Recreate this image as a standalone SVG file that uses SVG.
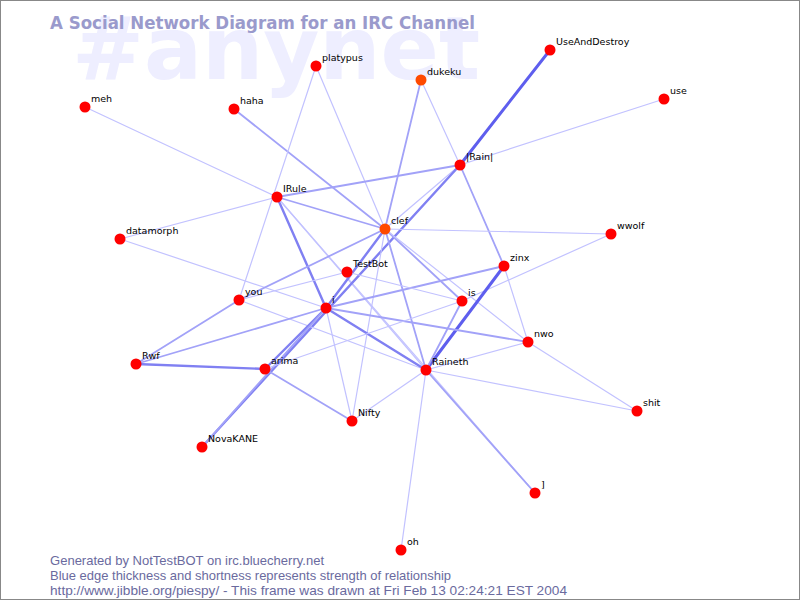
<svg xmlns="http://www.w3.org/2000/svg" width="800" height="600" viewBox="0 0 800 600">
<style>
.bg{fill:#ffffff;stroke:#888888;stroke-width:1}
.wm{font-family:"DejaVu Sans",sans-serif;font-weight:bold;font-size:88px;fill:#eeeeff}
.title{font-family:"DejaVu Sans",sans-serif;font-weight:bold;font-size:17px;fill:#9a9acc}
.foot{font-family:"Liberation Sans",Arial,sans-serif;font-size:13px;fill:#6a6a9e}
.lbl{font-family:"DejaVu Sans",sans-serif;font-size:9.5px;fill:#000000}
.n{fill:#ff0000}
.o{fill:#ff4a00}
#edges line{stroke-linecap:round}
.t{stroke:#c2c2ff;stroke-width:1.2}
.m{stroke:#a2a2f8;stroke-width:1.8}
.k{stroke:#8080f2;stroke-width:2.4}
.x{stroke:#5e5eee;stroke-width:3}
</style>
<rect class="bg" x="0.5" y="0.5" width="799" height="599"/>
<text class="wm" x="72" y="79" textLength="408" lengthAdjust="spacingAndGlyphs">#anynet</text>
<text class="title" x="50" y="29" textLength="425" lengthAdjust="spacingAndGlyphs">A Social Network Diagram for an IRC Channel</text>
<g id="edges">
<line class="t" x1="85" y1="107" x2="277" y2="197"/>
<line class="m" x1="234" y1="109" x2="385" y2="229"/>
<line class="t" x1="316" y1="66" x2="239" y2="300"/>
<line class="t" x1="316" y1="66" x2="385" y2="229"/>
<line class="m" x1="421" y1="80" x2="385" y2="229"/>
<line class="t" x1="421" y1="80" x2="460" y2="165"/>
<line class="x" x1="550" y1="50" x2="460" y2="165"/>
<line class="t" x1="664" y1="99" x2="460" y2="165"/>
<line class="m" x1="277" y1="197" x2="460" y2="165"/>
<line class="t" x1="277" y1="197" x2="120" y2="239"/>
<line class="m" x1="277" y1="197" x2="385" y2="229"/>
<line class="k" x1="277" y1="197" x2="326" y2="308"/>
<line class="t" x1="277" y1="197" x2="426" y2="370"/>
<line class="t" x1="277" y1="197" x2="535" y2="493"/>
<line class="t" x1="120" y1="239" x2="326" y2="308"/>
<line class="t" x1="460" y1="165" x2="385" y2="229"/>
<line class="m" x1="460" y1="165" x2="504" y2="266"/>
<line class="k" x1="460" y1="165" x2="202" y2="447"/>
<line class="k" x1="385" y1="229" x2="326" y2="308"/>
<line class="m" x1="385" y1="229" x2="239" y2="300"/>
<line class="t" x1="385" y1="229" x2="611" y2="234"/>
<line class="m" x1="385" y1="229" x2="462" y2="301"/>
<line class="t" x1="385" y1="229" x2="528" y2="342"/>
<line class="m" x1="385" y1="229" x2="426" y2="370"/>
<line class="t" x1="385" y1="229" x2="352" y2="421"/>
<line class="t" x1="611" y1="234" x2="462" y2="301"/>
<line class="x" x1="504" y1="266" x2="426" y2="370"/>
<line class="m" x1="504" y1="266" x2="326" y2="308"/>
<line class="t" x1="504" y1="266" x2="528" y2="342"/>
<line class="t" x1="347" y1="272" x2="239" y2="300"/>
<line class="t" x1="347" y1="272" x2="462" y2="301"/>
<line class="m" x1="239" y1="300" x2="136" y2="364"/>
<line class="t" x1="239" y1="300" x2="426" y2="370"/>
<line class="m" x1="326" y1="308" x2="136" y2="364"/>
<line class="k" x1="326" y1="308" x2="265" y2="369"/>
<line class="m" x1="326" y1="308" x2="202" y2="447"/>
<line class="t" x1="326" y1="308" x2="352" y2="421"/>
<line class="m" x1="326" y1="308" x2="528" y2="342"/>
<line class="k" x1="326" y1="308" x2="426" y2="370"/>
<line class="k" x1="136" y1="364" x2="265" y2="369"/>
<line class="m" x1="265" y1="369" x2="352" y2="421"/>
<line class="t" x1="265" y1="369" x2="462" y2="301"/>
<line class="m" x1="462" y1="301" x2="426" y2="370"/>
<line class="t" x1="528" y1="342" x2="426" y2="370"/>
<line class="t" x1="528" y1="342" x2="637" y2="411"/>
<line class="t" x1="426" y1="370" x2="637" y2="411"/>
<line class="t" x1="426" y1="370" x2="401" y2="550"/>
<line class="t" x1="426" y1="370" x2="352" y2="421"/>
<line class="m" x1="426" y1="370" x2="535" y2="493"/>
</g>
<g id="node-platypus"><circle class="n" cx="316" cy="66" r="5.5"/><text class="lbl" x="322" y="61">platypus</text></g>
<g id="node-dukeku"><circle class="o" cx="421" cy="80" r="5.5"/><text class="lbl" x="427" y="75">dukeku</text></g>
<g id="node-UseAndDestroy"><circle class="n" cx="550" cy="50" r="5.5"/><text class="lbl" x="556" y="45">UseAndDestroy</text></g>
<g id="node-use"><circle class="n" cx="664" cy="99" r="5.5"/><text class="lbl" x="670" y="94">use</text></g>
<g id="node-meh"><circle class="n" cx="85" cy="107" r="5.5"/><text class="lbl" x="91" y="102">meh</text></g>
<g id="node-haha"><circle class="n" cx="234" cy="109" r="5.5"/><text class="lbl" x="240" y="104">haha</text></g>
<g id="node-Rain"><circle class="n" cx="460" cy="165" r="5.5"/><text class="lbl" x="466" y="160">|Rain|</text></g>
<g id="node-IRule"><circle class="n" cx="277" cy="197" r="5.5"/><text class="lbl" x="283" y="192">IRule</text></g>
<g id="node-clef"><circle class="o" cx="385" cy="229" r="5.5"/><text class="lbl" x="391" y="224">clef</text></g>
<g id="node-datamorph"><circle class="n" cx="120" cy="239" r="5.5"/><text class="lbl" x="126" y="234">datamorph</text></g>
<g id="node-wwolf"><circle class="n" cx="611" cy="234" r="5.5"/><text class="lbl" x="617" y="229">wwolf</text></g>
<g id="node-zinx"><circle class="n" cx="504" cy="266" r="5.5"/><text class="lbl" x="510" y="261">zinx</text></g>
<g id="node-TestBot"><circle class="n" cx="347" cy="272" r="5.5"/><text class="lbl" x="353" y="267">TestBot</text></g>
<g id="node-you"><circle class="n" cx="239" cy="300" r="5.5"/><text class="lbl" x="245" y="295">you</text></g>
<g id="node-i"><circle class="n" cx="326" cy="308" r="5.5"/><text class="lbl" x="332" y="303">i</text></g>
<g id="node-is"><circle class="n" cx="462" cy="301" r="5.5"/><text class="lbl" x="468" y="296">is</text></g>
<g id="node-nwo"><circle class="n" cx="528" cy="342" r="5.5"/><text class="lbl" x="534" y="337">nwo</text></g>
<g id="node-Rwf"><circle class="n" cx="136" cy="364" r="5.5"/><text class="lbl" x="142" y="359">Rwf</text></g>
<g id="node-arima"><circle class="n" cx="265" cy="369" r="5.5"/><text class="lbl" x="271" y="364">arima</text></g>
<g id="node-Raineth"><circle class="n" cx="426" cy="370" r="5.5"/><text class="lbl" x="432" y="365">Raineth</text></g>
<g id="node-shit"><circle class="n" cx="637" cy="411" r="5.5"/><text class="lbl" x="643" y="406">shit</text></g>
<g id="node-Nifty"><circle class="n" cx="352" cy="421" r="5.5"/><text class="lbl" x="358" y="416">Nifty</text></g>
<g id="node-NovaKANE"><circle class="n" cx="202" cy="447" r="5.5"/><text class="lbl" x="208" y="442">NovaKANE</text></g>
<g id="node-bracket"><circle class="n" cx="535" cy="493" r="5.5"/><text class="lbl" x="541" y="488">]</text></g>
<g id="node-oh"><circle class="n" cx="401" cy="550" r="5.5"/><text class="lbl" x="407" y="545">oh</text></g>
<g id="footer">
<text class="foot" x="50" y="565" textLength="274" lengthAdjust="spacingAndGlyphs">Generated by NotTestBOT on irc.bluecherry.net</text>
<text class="foot" x="50" y="580" textLength="401" lengthAdjust="spacingAndGlyphs">Blue edge thickness and shortness represents strength of relationship</text>
<text class="foot" x="50" y="595" textLength="517" lengthAdjust="spacingAndGlyphs">http://www.jibble.org/piespy/ - This frame was drawn at Fri Feb 13 02:24:21 EST 2004</text>
</g>
</svg>
